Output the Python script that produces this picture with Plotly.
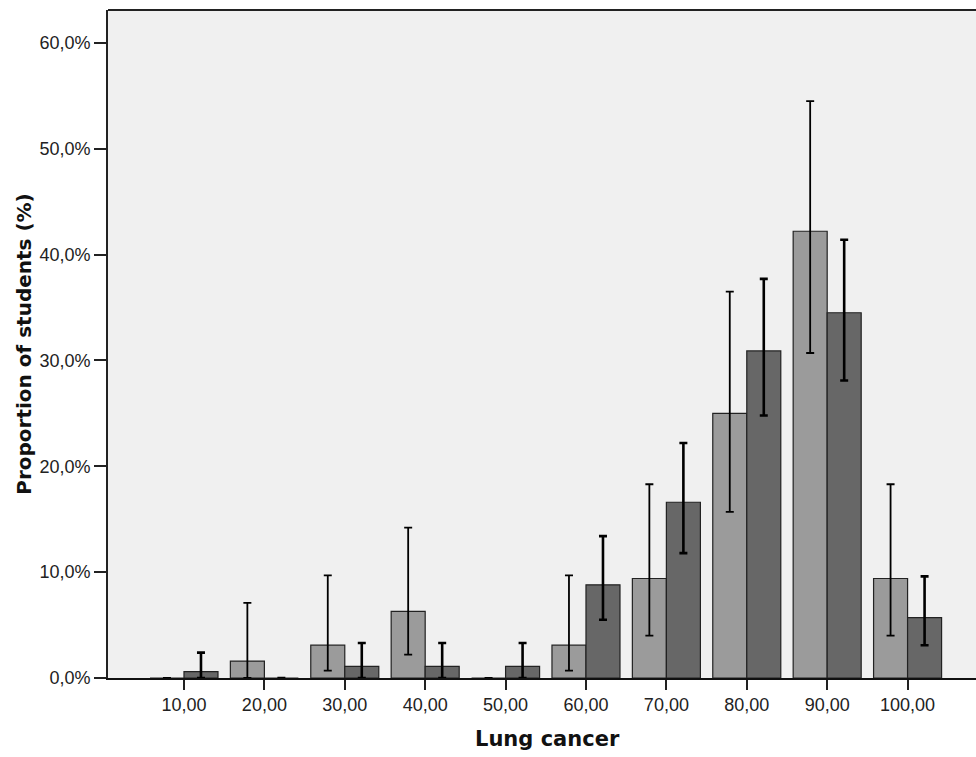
import plotly.graph_objects as go

categories = ["10,00", "20,00", "30,00", "40,00", "50,00", "60,00", "70,00", "80,00", "90,00", "100,00"]

light_values = [0.0, 1.6, 3.1, 6.3, 0.0, 3.1, 9.4, 25.0, 42.2, 9.4]
light_err_hi = [0.0, 7.1, 9.7, 14.2, 0.0, 9.7, 18.3, 36.5, 54.5, 18.3]
light_err_lo = [0.0, 0.0, 0.7, 2.2, 0.0, 0.7, 4.0, 15.7, 30.7, 4.0]

dark_values = [0.6, 0.0, 1.1, 1.1, 1.1, 8.8, 16.6, 30.9, 34.5, 5.7]
dark_err_hi = [2.4, 0.0, 3.3, 3.3, 3.3, 13.4, 22.2, 37.7, 41.4, 9.6]
dark_err_lo = [0.0, 0.0, 0.0, 0.0, 0.0, 5.5, 11.8, 24.8, 28.1, 3.1]

y_tick_values = [0, 10, 20, 30, 40, 50, 60]
y_tick_labels = ["0,0%", "10,0%", "20,0%", "30,0%", "40,0%", "50,0%", "60,0%"]

x_title = "Lung cancer"
y_title = "Proportion of students (%)"


def err(vals, hi, lo):
    plus = [(h - v) if v > 0 else 0 for v, h in zip(vals, hi)]
    minus = [(v - l) if v > 0 else 0 for v, l in zip(vals, lo)]
    return plus, minus


lp, lm = err(light_values, light_err_hi, light_err_lo)
dp, dm = err(dark_values, dark_err_hi, dark_err_lo)

fig = go.Figure()
fig.add_trace(go.Bar(
    x=categories, y=light_values, name="Group 1",
    marker=dict(color="#9b9b9b", line=dict(color="#222222", width=1.2)),
    error_y=dict(type="data", symmetric=False, array=lp, arrayminus=lm,
                 color="#000000", thickness=1.8, width=4),
))
fig.add_trace(go.Bar(
    x=categories, y=dark_values, name="Group 2",
    marker=dict(color="#676767", line=dict(color="#222222", width=1.2)),
    error_y=dict(type="data", symmetric=False, array=dp, arrayminus=dm,
                 color="#000000", thickness=2.6, width=4),
))

fig.update_layout(
    width=976, height=757,
    margin=dict(l=108, r=0, t=10, b=79),
    paper_bgcolor="white",
    plot_bgcolor="#f0f0f0",
    barmode="group",
    bargap=0.154,
    bargroupgap=0,
    showlegend=False,
    font=dict(family="Liberation Sans, Arial, sans-serif", size=18, color="#222222"),
    xaxis=dict(
        type="category",
        range=[-0.945, 9.851],
        showline=True, linecolor="#111111", linewidth=1.6,
        ticks="outside", ticklen=10, tickwidth=1.8, tickcolor="#222222",
        showgrid=False, zeroline=False,
    ),
    yaxis=dict(
        range=[0, 63.1],
        tickmode="array", tickvals=y_tick_values, ticktext=y_tick_labels,
        showline=True, linecolor="#222222", linewidth=1.8,
        ticks="outside", ticklen=12, tickwidth=1.6, tickcolor="#222222",
        showgrid=False, zeroline=False,
    ),
    shapes=[dict(type="line", xref="paper", yref="paper", x0=0, x1=1, y0=1, y1=1,
                 line=dict(color="#222222", width=1.8))],
    annotations=[
        dict(text=x_title, xref="paper", yref="paper",
             x=(547.5 - 108) / 868, y=(678.5 - 740) / 668.5,
             xanchor="center", yanchor="middle", showarrow=False,
             font=dict(family="DejaVu Sans", size=21, color="#111111", weight="bold")),
        dict(text=y_title, xref="paper", yref="paper",
             x=(24 - 108) / 868, y=(678.5 - 344) / 668.5,
             xanchor="center", yanchor="middle", showarrow=False, textangle=-90,
             font=dict(family="DejaVu Sans", size=20, color="#111111", weight="bold")),
    ],
)

fig.write_html(
    "out.html",
    config={"displayModeBar": False},
    post_script="document.body.style.margin='0px';document.body.style.overflow='hidden';",
)
